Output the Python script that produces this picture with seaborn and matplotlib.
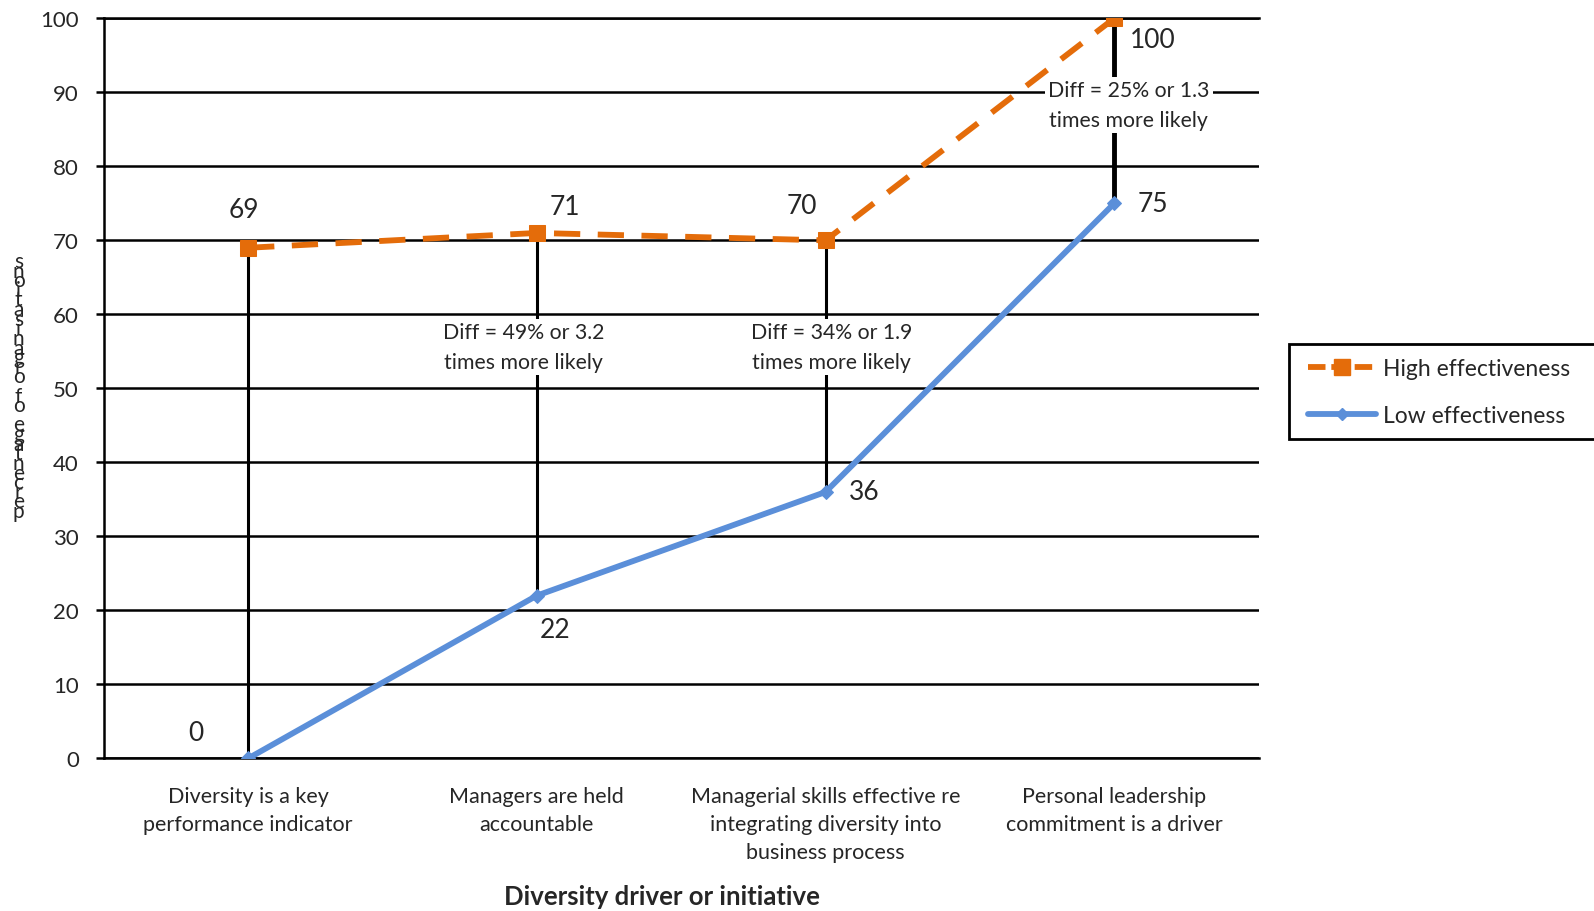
import matplotlib
matplotlib.use("Agg")
import matplotlib.pyplot as plt
import matplotlib.patches as mpatches
from matplotlib.lines import Line2D
import seaborn as sns
import pandas as pd

# Data
categories = [
    "Diversity is a key\nperformance indicator",
    "Managers are held\naccountable",
    "Managerial skills effective re\nintegrating diversity into\nbusiness process",
    "Personal leadership\ncommitment is a driver",
]
high_effectiveness = [69, 71, 70, 100]
low_effectiveness = [0, 22, 36, 75]
diff_notes = [
    None,
    "Diff = 49% or 3.2\ntimes more likely",
    "Diff = 34% or 1.9\ntimes more likely",
    "Diff = 25% or 1.3\ntimes more likely",
]
y_ticks = list(range(0, 101, 10))
y_title = "percentage of organisations"
x_title = "Diversity driver or initiative"

ORANGE = "#E46C0A"
BLUE = "#5B8FD9"

sns.set_style("white")
plt.rcParams["font.family"] = ["Lato", "DejaVu Sans"]

fig = plt.figure(figsize=(15.94, 9.12), dpi=100)
ax = fig.add_axes([0.0651, 0.1673, 0.7245, 0.8115])

pos = list(range(len(categories)))
df_hi = pd.DataFrame({"x": pos, "y": high_effectiveness})
df_lo = pd.DataFrame({"x": pos, "y": low_effectiveness})

# high-low drop lines
for i, (h, l) in enumerate(zip(high_effectiveness, low_effectiveness)):
    ax.vlines(i, l, h, color="black", lw=2.2 if i < 3 else 3.5, zorder=2)

sns.lineplot(data=df_hi, x="x", y="y", ax=ax, color=ORANGE, lw=4.2,
             sort=False, zorder=5)
ax.lines[-1].set_dashes((4.5, 3))
ax.lines[-1].set_marker("s")
ax.lines[-1].set_markersize(11)
ax.lines[-1].set_markerfacecolor(ORANGE)
ax.lines[-1].set_markeredgecolor(ORANGE)

sns.lineplot(data=df_lo, x="x", y="y", ax=ax, color=BLUE, lw=4.2,
             marker="D", markersize=7, markeredgecolor=BLUE, sort=False,
             zorder=6)

# value labels (pixel offsets from each point)
hi_off = [(-4, 38), (28, 26), (-24, 35), (38, -21)]
lo_off = [(-52, 26), (18, -34), (39, 0), (39, 0)]
for i, v in enumerate(high_effectiveness):
    ax.annotate(str(v), (i, v), xytext=hi_off[i], textcoords="offset pixels",
                ha="center", va="center", fontsize=19, zorder=8)
for i, v in enumerate(low_effectiveness):
    ax.annotate(str(v), (i, v), xytext=lo_off[i], textcoords="offset pixels",
                ha="center", va="center", fontsize=19, zorder=8)

# difference notes
note_pos = [None, (0.955, 55.6), (2.02, 55.6), (3.05, 88.3)]
for note, p in zip(diff_notes, note_pos):
    if note is None:
        continue
    ax.text(p[0], p[1], note, ha="center", va="center", fontsize=15.3,
            linespacing=1.65, zorder=4,
            bbox=dict(boxstyle="square,pad=0.15", fc="white", ec="none"))

# axes styling
ax.set_xlim(-0.5, len(categories) - 0.5)
ax.set_ylim(0, 100)
ax.set_yticks(y_ticks)
ax.set_yticklabels([str(t) for t in y_ticks], fontsize=16)
ax.grid(axis="y", color="black", lw=1.8)
ax.grid(axis="x", visible=False)
ax.set_axisbelow(True)
ax.set_xticks(pos)
ax.set_xticklabels(categories, fontsize=15.5, linespacing=1.5)
ax.set_xticks([p - 0.5 for p in pos] + [len(pos) - 0.5], minor=True)
ax.tick_params(axis="x", which="major", length=0, pad=20)
ax.tick_params(axis="x", which="minor", direction="inout", length=12,
               width=1.8, color="black")
ax.tick_params(axis="y", direction="out", length=6, width=1.8,
               color="black", pad=12, left=True)
for side in ("left", "bottom", "top"):
    ax.spines[side].set_visible(True)
    ax.spines[side].set_color("black")
    ax.spines[side].set_linewidth(1.8)
ax.spines["right"].set_visible(False)
ax.set_xlabel("")
ax.set_ylabel("")
ax.text(0.483, -0.186, x_title, transform=ax.transAxes, ha="center",
        va="center", fontsize=18.5, fontweight="bold")

# stacked vertical axis title
n = len(y_title)
top_y, bot_y = 1 - 262 / 912, 1 - 512 / 912
for k, ch in enumerate(reversed(y_title)):
    yy = top_y - (top_y - bot_y) * k / (n - 1)
    fig.text(18.5 / 1594, yy, ch, ha="center", va="center", fontsize=15)

# legend with frame
fig.patches.append(mpatches.Rectangle(
    (1289 / 1594, 1 - 440 / 912), 340 / 1594, 95 / 912,
    transform=fig.transFigure, fc="white", ec="black", lw=2, zorder=1))
handles = [
    Line2D([], [], color=ORANGE, lw=4.2, dashes=(3, 1), marker="s",
           markersize=12),
    Line2D([], [], color=BLUE, lw=4.2, marker="D", markersize=6),
]
leg = fig.legend(handles, ["High effectiveness", "Low effectiveness"],
                 loc="center left", bbox_to_anchor=(1287 / 1594, 1 - 393 / 912),
                 frameon=False, fontsize=16.5, handlelength=3.0,
                 handletextpad=0.3, labelspacing=1.1)

fig.savefig("out.png", dpi=100)
